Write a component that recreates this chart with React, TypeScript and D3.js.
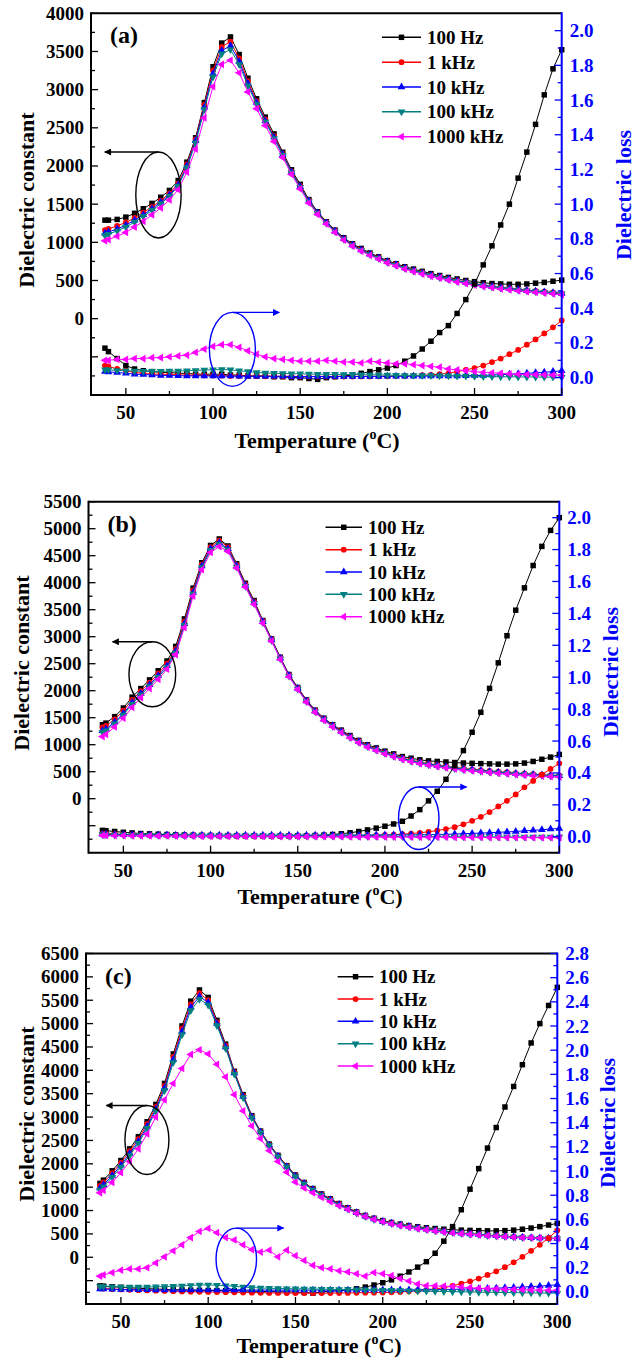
import React from 'react';
import * as d3 from 'd3';

// measured temperatures (°C)
const temps = [
  38, 40, 45, 50, 55, 60, 65, 70, 75, 80,
  85, 90, 95, 100, 105, 110, 115, 120, 125, 130,
  135, 140, 145, 150, 155, 160, 165, 170, 175, 180,
  185, 190, 195, 200, 205, 210, 215, 220, 225, 230,
  235, 240, 245, 250, 255, 260, 265, 270, 275, 280,
  285, 290, 295, 300,
];

const freqLabels = ['100 Hz', '1 kHz', '10 kHz', '100 kHz', '1000 kHz'];
const xTicks = [50, 100, 150, 200, 250, 300];

// ---- panel (a) ----
const aEps100Hz = [
  1290, 1290, 1300, 1330, 1380, 1440, 1510, 1590, 1680, 1810,
  2050, 2370, 2830, 3300, 3610, 3690, 3460, 3150, 2880, 2640,
  2420, 2180, 1950, 1760, 1560, 1400, 1270, 1160, 1060, 980,
  920, 860, 810, 760, 720, 680, 650, 620, 590, 565,
  540, 520, 500, 485, 470, 460, 455, 450, 450, 455,
  465, 475, 490, 505,
];
const aEps1kHz = [
  1160, 1175, 1215, 1260, 1320, 1390, 1465, 1545, 1640, 1770,
  2020, 2350, 2800, 3250, 3560, 3630, 3410, 3110, 2850, 2610,
  2390, 2160, 1930, 1740, 1545, 1390, 1260, 1150, 1050, 970,
  905, 850, 800, 750, 710, 670, 635, 605, 575, 550,
  525, 500, 480, 460, 440, 425, 410, 400, 385, 375,
  365, 355, 345, 335,
];
const aEps10kHz = [
  1120, 1135, 1175, 1225, 1290, 1360, 1440, 1525, 1620, 1750,
  2000, 2330, 2770, 3210, 3510, 3575, 3370, 3080, 2830, 2590,
  2375, 2150, 1920, 1730, 1540, 1385, 1255, 1145, 1045, 965,
  900, 845, 795, 745, 705, 665, 630, 600, 570, 545,
  520, 495, 475, 455, 435, 420, 405, 395, 380, 370,
  360, 350, 340, 330,
];
const aEps100kHz = [
  1090, 1105, 1150, 1200, 1265, 1340, 1420, 1505, 1605, 1735,
  1980, 2300, 2740, 3170, 3470, 3525, 3330, 3050, 2810, 2575,
  2360, 2140, 1910, 1720, 1530, 1380, 1250, 1140, 1040, 960,
  895, 840, 790, 740, 700, 660, 625, 595, 565, 540,
  515, 490, 470, 450, 430, 415, 400, 390, 375, 365,
  355, 345, 335, 325,
];
const aEps1000kHz = [
  1020, 1035, 1080, 1130, 1200, 1275, 1360, 1450, 1555, 1690,
  1920, 2220, 2630, 3040, 3330, 3385, 3220, 2970, 2750, 2530,
  2320, 2110, 1890, 1700, 1515, 1365, 1240, 1130, 1030, 950,
  885, 830, 780, 730, 690, 650, 615, 585, 555, 530,
  505, 480, 460, 440, 420, 405, 390, 378, 365, 355,
  345, 335, 325, 315,
];
const aLoss100Hz = [
  0.17, 0.15, 0.11, 0.07, 0.05, 0.04, 0.035, 0.03, 0.03, 0.025,
  0.025, 0.02, 0.02, 0.02, 0.02, 0.015, 0.015, 0.01, 0.01, 0.01,
  0.005, 0.005, 0, 0, -0.005, -0.01, 0, 0.005, 0.01, 0.015,
  0.025, 0.035, 0.045, 0.055, 0.07, 0.095, 0.125, 0.165, 0.21, 0.26,
  0.3, 0.37, 0.45, 0.54, 0.65, 0.76, 0.88, 1.0, 1.15, 1.3,
  1.46, 1.63, 1.78, 1.89,
];
const aLoss1kHz = [
  0.07, 0.065, 0.05, 0.04, 0.03, 0.025, 0.02, 0.02, 0.018, 0.016,
  0.015, 0.014, 0.013, 0.012, 0.011, 0.01, 0.01, 0.009, 0.009, 0.008,
  0.008, 0.007, 0.007, 0.006, 0.006, 0.006, 0.006, 0.006, 0.006, 0.006,
  0.007, 0.007, 0.008, 0.008, 0.009, 0.01, 0.012, 0.014, 0.016, 0.02,
  0.025, 0.035, 0.045, 0.055, 0.07, 0.09, 0.11, 0.135, 0.16, 0.19,
  0.22, 0.255, 0.29, 0.33,
];
const aLoss10kHz = [
  0.035, 0.033, 0.03, 0.025, 0.02, 0.018, 0.015, 0.013, 0.012, 0.011,
  0.01, 0.01, 0.01, 0.009, 0.009, 0.009, 0.008, 0.008, 0.008, 0.008,
  0.008, 0.008, 0.007, 0.007, 0.007, 0.007, 0.007, 0.007, 0.007, 0.007,
  0.007, 0.007, 0.007, 0.008, 0.008, 0.008, 0.008, 0.008, 0.009, 0.009,
  0.01, 0.01, 0.011, 0.012, 0.013, 0.015, 0.017, 0.02, 0.022, 0.025,
  0.028, 0.031, 0.035, 0.04,
];
const aLoss100kHz = [
  0.045, 0.045, 0.042, 0.04, 0.038, 0.037, 0.037, 0.037, 0.038, 0.038,
  0.04, 0.042, 0.044, 0.046, 0.047, 0.045, 0.04, 0.035, 0.03, 0.027,
  0.025, 0.024, 0.023, 0.022, 0.021, 0.02, 0.019, 0.019, 0.018, 0.018,
  0.017, 0.016, 0.016, 0.015, 0.014, 0.013, 0.013, 0.012, 0.012, 0.011,
  0.011, 0.01, 0.009, 0.008, 0.007, 0.006, 0.005, 0.005, 0.004, 0.004,
  0.004, 0.003, 0.003, 0.003,
];
const aLoss1000kHz = [
  0.1, 0.1, 0.105, 0.105, 0.11, 0.11, 0.115, 0.115, 0.12, 0.125,
  0.13, 0.145, 0.165, 0.18, 0.19, 0.19, 0.175, 0.155, 0.135, 0.12,
  0.11, 0.105, 0.1, 0.095, 0.095, 0.095, 0.1, 0.095, 0.09, 0.09,
  0.085, 0.095, 0.09, 0.085, 0.08, 0.08, 0.075, 0.07, 0.065, 0.06,
  0.05, 0.045, 0.04, 0.035, 0.03, 0.028, 0.025, 0.022, 0.02, 0.018,
  0.017, 0.016, 0.015, 0.015,
];

// ---- panel (b) ----
const bEps100Hz = [
  1370, 1400, 1520, 1680, 1880, 2040, 2200, 2370, 2550, 2820,
  3330, 3900, 4370, 4690, 4810, 4680, 4350, 3990, 3670, 3300,
  2960, 2620, 2300, 2060, 1830, 1640, 1490, 1370, 1270, 1170,
  1080, 1000, 940, 880, 830, 780, 750, 720, 700, 690,
  680, 670, 660, 655, 650, 645, 640, 640, 645, 660,
  690, 730, 770, 820,
];
const bEps1kHz = [
  1320, 1350, 1470, 1630, 1830, 1990, 2150, 2320, 2500, 2770,
  3280, 3860, 4340, 4660, 4780, 4660, 4330, 3970, 3650, 3290,
  2950, 2610, 2290, 2050, 1820, 1630, 1480, 1360, 1255, 1155,
  1065, 985, 920, 860, 805, 755, 715, 680, 650, 625,
  600, 580, 560, 545, 530, 515, 500, 490, 475, 465,
  455, 445, 435, 430,
];
const bEps10kHz = [
  1260, 1290, 1420, 1580, 1780, 1950, 2110, 2280, 2460, 2730,
  3240, 3820, 4310, 4630, 4740, 4630, 4310, 3950, 3630, 3275,
  2940, 2600, 2280, 2040, 1810, 1620, 1470, 1350, 1245, 1145,
  1055, 975, 910, 850, 795, 745, 705, 670, 640, 615,
  590, 570, 550, 535, 520, 505, 490, 480, 468, 458,
  448, 438, 430, 425,
];
const bEps100kHz = [
  1230, 1260, 1390, 1550, 1750, 1920, 2080, 2250, 2430, 2700,
  3210, 3790, 4280, 4600, 4710, 4610, 4290, 3935, 3615, 3260,
  2930, 2590, 2270, 2030, 1800, 1610, 1460, 1340, 1235, 1135,
  1045, 965, 900, 840, 785, 735, 695, 660, 630, 605,
  580, 560, 540, 525, 510, 495, 480, 470, 458, 448,
  438, 428, 420, 415,
];
const bEps1000kHz = [
  1150, 1190, 1330, 1490, 1690, 1870, 2040, 2210, 2400, 2670,
  3170, 3750, 4240, 4560, 4670, 4580, 4270, 3920, 3600, 3250,
  2920, 2580, 2260, 2020, 1790, 1600, 1450, 1330, 1225, 1125,
  1035, 955, 890, 830, 775, 725, 685, 650, 620, 595,
  570, 550, 530, 515, 500, 485, 470, 458, 446, 436,
  426, 418, 410, 402,
];
const bLoss100Hz = [
  0.04, 0.038, 0.033, 0.028, 0.024, 0.02, 0.018, 0.016, 0.014, 0.012,
  0.011, 0.01, 0.009, 0.008, 0.007, 0.007, 0.006, 0.006, 0.006, 0.005,
  0.005, 0.005, 0.005, 0.005, 0.006, 0.008, 0.01, 0.014, 0.019, 0.025,
  0.033, 0.043, 0.054, 0.066, 0.08, 0.097, 0.13, 0.17, 0.225, 0.285,
  0.36, 0.445, 0.54, 0.655, 0.78, 0.93, 1.09, 1.26, 1.42, 1.56,
  1.7, 1.82, 1.92, 2.0,
];
const bLoss1kHz = [
  0.02, 0.02, 0.018, 0.015, 0.013, 0.011, 0.01, 0.009, 0.008, 0.008,
  0.007, 0.007, 0.007, 0.006, 0.006, 0.006, 0.006, 0.005, 0.005, 0.005,
  0.005, 0.005, 0.005, 0.005, 0.005, 0.005, 0.005, 0.005, 0.005, 0.006,
  0.007, 0.008, 0.009, 0.011, 0.013, 0.016, 0.02, 0.025, 0.031, 0.039,
  0.048, 0.06, 0.078, 0.1, 0.125, 0.155, 0.19, 0.225, 0.265, 0.31,
  0.35, 0.39, 0.425, 0.46,
];
const bLoss10kHz = [
  0.015, 0.015, 0.014, 0.013, 0.012, 0.012, 0.011, 0.011, 0.011, 0.01,
  0.01, 0.01, 0.01, 0.01, 0.01, 0.01, 0.01, 0.01, 0.01, 0.01,
  0.01, 0.01, 0.01, 0.01, 0.01, 0.01, 0.01, 0.01, 0.01, 0.01,
  0.01, 0.01, 0.011, 0.011, 0.011, 0.012, 0.012, 0.012, 0.013, 0.014,
  0.015, 0.017, 0.019, 0.021, 0.023, 0.025, 0.028, 0.03, 0.033, 0.037,
  0.04, 0.044, 0.048, 0.052,
];
const bLoss100kHz = [
  0.012, 0.012, 0.011, 0.011, 0.01, 0.01, 0.01, 0.009, 0.009, 0.009,
  0.008, 0.008, 0.008, 0.008, 0.007, 0.007, 0.007, 0.007, 0.006, 0.006,
  0.006, 0.006, 0.005, 0.005, 0.005, 0.005, 0.004, 0.004, 0.004, 0.004,
  0.003, 0.003, 0.003, 0.003, 0.002, 0.002, 0.002, 0.002, 0.001, 0.001,
  0.001, 0.001, 0, 0, 0, 0, -0.001, -0.001, -0.001, -0.001,
  -0.002, -0.002, -0.002, -0.002,
];
const bLoss1000kHz = [
  0.008, 0.008, 0.007, 0.007, 0.006, 0.006, 0.005, 0.005, 0.005, 0.004,
  0.004, 0.004, 0.003, 0.003, 0.003, 0.003, 0.003, 0.002, 0.002, 0.002,
  0.002, 0.001, 0.001, 0.001, 0.001, 0, 0, 0, 0, -0.001,
  -0.001, -0.001, -0.001, -0.002, -0.002, -0.002, -0.002, -0.003, -0.003, -0.003,
  -0.003, -0.004, -0.004, -0.004, -0.004, -0.005, -0.005, -0.005, -0.005, -0.005,
  -0.006, -0.006, -0.006, -0.006,
];

// ---- panel (c) ----
const cEps100Hz = [
  1580, 1650, 1850, 2070, 2320, 2580, 2900, 3270, 3720, 4350,
  4950, 5480, 5720, 5560, 5070, 4560, 3980, 3480, 3030, 2700,
  2420, 2180, 1960, 1760, 1600, 1470, 1355, 1250, 1150, 1060,
  970, 895, 835, 785, 745, 710, 678, 652, 632, 615,
  600, 590, 580, 575, 570, 565, 565, 570, 580, 600,
  625, 655, 690, 725,
];
const cEps1kHz = [
  1530, 1600, 1800, 2020, 2270, 2530, 2850, 3220, 3670, 4290,
  4890, 5410, 5650, 5500, 5030, 4530, 3960, 3460, 3015, 2690,
  2410, 2170, 1950, 1750, 1590, 1460, 1345, 1240, 1140, 1050,
  960, 885, 825, 775, 735, 700, 665, 635, 608, 583,
  562, 542, 523, 507, 492, 477, 464, 452, 441, 431,
  422, 415, 410, 405,
];
const cEps10kHz = [
  1480, 1550, 1750, 1970, 2220, 2480, 2800, 3170, 3620, 4230,
  4830, 5350, 5580, 5450, 5000, 4500, 3940, 3440, 3000, 2680,
  2400, 2160, 1940, 1740, 1580, 1450, 1335, 1230, 1130, 1040,
  952, 877, 817, 767, 727, 692, 657, 627, 600, 575,
  554, 534, 516, 500, 485, 471, 458, 447, 437, 428,
  420, 413, 407, 402,
];
const cEps100kHz = [
  1440, 1510, 1710, 1930, 2180, 2440, 2760, 3130, 3570, 4170,
  4760, 5280, 5520, 5400, 4960, 4470, 3920, 3420, 2985, 2670,
  2390, 2150, 1930, 1730, 1570, 1440, 1325, 1220, 1120, 1030,
  945, 870, 810, 760, 720, 685, 650, 620, 593, 568,
  548, 528, 510, 494, 480, 466, 453, 442, 432, 423,
  415, 408, 403, 398,
];
const cEps1000kHz = [
  1380, 1430, 1600, 1810, 2050, 2320, 2640, 3000, 3370, 3720,
  4040, 4340, 4440, 4350, 4130, 3860, 3480, 3130, 2810, 2540,
  2280, 2050, 1820, 1610, 1480, 1380, 1280, 1190, 1100, 1020,
  940, 870, 810, 760, 715, 675, 640, 610, 585, 560,
  540, 520, 505, 490, 475, 462, 450, 440, 430, 422,
  415, 410, 405, 400,
];
const cLoss100Hz = [
  0.05, 0.048, 0.043, 0.038, 0.034, 0.03, 0.027, 0.024, 0.021, 0.019,
  0.017, 0.015, 0.013, 0.012, 0.011, 0.01, 0.009, 0.008, 0.006, 0.004,
  0.003, 0.002, 0, -0.002, -0.005, -0.01, 0, 0.005, 0.01, 0.016,
  0.026, 0.04, 0.057, 0.076, 0.1, 0.13, 0.165, 0.205, 0.25, 0.32,
  0.42, 0.54, 0.68, 0.85, 1.02, 1.19, 1.36, 1.53, 1.7, 1.88,
  2.06, 2.22, 2.37, 2.52,
];
const cLoss1kHz = [
  0.03, 0.028, 0.024, 0.02, 0.017, 0.014, 0.012, 0.01, 0.008, 0.006,
  0.004, 0.002, 0.001, 0, -0.001, -0.002, -0.003, -0.005, -0.006, -0.007,
  -0.008, -0.008, -0.009, -0.009, -0.01, -0.01, -0.01, -0.01, -0.009, -0.008,
  -0.007, -0.006, -0.006, -0.005, -0.003, 0, 0.005, 0.01, 0.017, 0.025,
  0.035, 0.05, 0.068, 0.088, 0.11, 0.14, 0.17, 0.205, 0.245, 0.29,
  0.34, 0.39, 0.445, 0.51,
];
const cLoss10kHz = [
  0.025, 0.024, 0.022, 0.02, 0.019, 0.018, 0.017, 0.016, 0.016, 0.015,
  0.015, 0.015, 0.015, 0.015, 0.015, 0.015, 0.015, 0.015, 0.015, 0.015,
  0.015, 0.015, 0.015, 0.015, 0.015, 0.015, 0.015, 0.015, 0.015, 0.015,
  0.015, 0.015, 0.016, 0.016, 0.016, 0.016, 0.017, 0.017, 0.018, 0.019,
  0.02, 0.021, 0.023, 0.025, 0.027, 0.029, 0.031, 0.034, 0.037, 0.04,
  0.044, 0.048, 0.053, 0.06,
];
const cLoss100kHz = [
  0.045, 0.044, 0.042, 0.04, 0.04, 0.04, 0.041, 0.042, 0.044, 0.047,
  0.05, 0.054, 0.057, 0.058, 0.056, 0.052, 0.046, 0.04, 0.036, 0.033,
  0.03, 0.028, 0.027, 0.026, 0.025, 0.024, 0.023, 0.022, 0.021, 0.02,
  0.019, 0.017, 0.016, 0.014, 0.013, 0.011, 0.01, 0.008, 0.007, 0.005,
  0.004, 0.002, 0.001, 0, -0.002, -0.003, -0.004, -0.005, -0.006, -0.007,
  -0.008, -0.009, -0.01, -0.01,
];
const cLoss1000kHz = [
  0.13, 0.14, 0.16, 0.18, 0.19, 0.19, 0.2, 0.24, 0.29, 0.34,
  0.39, 0.45, 0.5, 0.525, 0.49, 0.45, 0.43, 0.39, 0.35, 0.33,
  0.345, 0.29, 0.345, 0.3, 0.26, 0.22, 0.2, 0.19, 0.175, 0.165,
  0.15, 0.13, 0.16, 0.15, 0.135, 0.11, 0.09, 0.065, 0.052, 0.05,
  0.048, 0.045, 0.04, 0.035, 0.03, 0.028, 0.025, 0.022, 0.02, 0.018,
  0.016, 0.015, 0.014, 0.014,
];

// annotation ellipses, in data units: [temp, value, radius temp, radius value, arrow end temp]
const aEpsMark = [68.7, 1620, 13, 563, 37.9];
const aLossMark = [111.1, 0.163, 13.2, 0.213, 138];
const bEpsMark = [66.6, 2304, 13.4, 602, 43.8];
const bLossMark = [219.4, 0.116, 11.6, 0.196, 246.8];
const cEpsMark = [64.9, 2509, 12.6, 738, 41.6];
const cLossMark = [116.1, 0.27, 11.6, 0.258, 143.2];

const FONT = '"Liberation Serif", "Times New Roman", serif';
const BLUE = '#0000ff';

const seriesStyle = [
  { color: '#000000', symbol: d3.symbolSquare, size: 30, rotate: 0 },
  { color: '#ff0000', symbol: d3.symbolCircle, size: 26, rotate: 0 },
  { color: '#0000ff', symbol: d3.symbolTriangle, size: 26, rotate: 0 },
  { color: '#008080', symbol: d3.symbolTriangle, size: 26, rotate: 180 },
  { color: '#ff00ff', symbol: d3.symbolTriangle, size: 26, rotate: -90 },
];

const panels = [
  {
    tag: '(a)', left: 91, right: 561.7, top: 13.3, bottom: 395,
    epsDomain: [-1000, 4000], lossDomain: [-0.1, 2.1], lossLabelMax: 2.0,
    eps: [aEps100Hz, aEps1kHz, aEps10kHz, aEps100kHz, aEps1000kHz],
    loss: [aLoss100Hz, aLoss1kHz, aLoss10kHz, aLoss100kHz, aLoss1000kHz],
    epsMark: aEpsMark, lossMark: aLossMark,
    legend: { x0: 382, x1: 421, tx: 427, y0: 37.3, dy: 24.85 },
    leftLabel: { x: 26, y: 200 }, rightLabel: { x: 623, y: 195 }, titleX: 317, titleDy: 53,
  },
  {
    tag: '(b)', left: 88.5, right: 559.3, top: 501.7, bottom: 852.7,
    epsDomain: [-1000, 5500], lossDomain: [-0.1, 2.1], lossLabelMax: 2.0,
    eps: [bEps100Hz, bEps1kHz, bEps10kHz, bEps100kHz, bEps1000kHz],
    loss: [bLoss100Hz, bLoss1kHz, bLoss10kHz, bLoss100kHz, bLoss1000kHz],
    epsMark: bEpsMark, lossMark: bLossMark,
    legend: { x0: 325.5, x1: 362, tx: 368, y0: 527.3, dy: 22.35 },
    leftLabel: { x: 21, y: 663 }, rightLabel: { x: 610, y: 672 }, titleX: 320, titleDy: 51,
  },
  {
    tag: '(c)', left: 86, right: 557.3, top: 953.5, bottom: 1304,
    epsDomain: [-1000, 6500], lossDomain: [-0.1, 2.8], lossLabelMax: 2.8,
    eps: [cEps100Hz, cEps1kHz, cEps10kHz, cEps100kHz, cEps1000kHz],
    loss: [cLoss100Hz, cLoss1kHz, cLoss10kHz, cLoss100kHz, cLoss1000kHz],
    epsMark: cEpsMark, lossMark: cLossMark,
    legend: { x0: 337.7, x1: 373.4, tx: 379, y0: 976.7, dy: 22.33 },
    leftLabel: { x: 26, y: 1114 }, rightLabel: { x: 607, y: 1123 }, titleX: 319, titleDy: 49,
  },
];

function Series({ values, x, y, style }) {
  const line = d3.line<number>().x((_, i) => x(temps[i])).y(d => y(d));
  const sym = d3.symbol().type(style.symbol).size(style.size)();
  return (
    <g>
      <path d={line(values) || ''} fill="none" stroke={style.color} strokeWidth={1} />
      {values.map((v, i) => (
        <path key={i} d={sym || ''} fill={style.color}
          transform={`translate(${x(temps[i])},${y(v)}) rotate(${style.rotate})`} />
      ))}
    </g>
  );
}

function Panel({ cfg, idx }) {
  const x = d3.scaleLinear().domain([30, 300]).range([cfg.left, cfg.right]);
  const yL = d3.scaleLinear().domain(cfg.epsDomain).range([cfg.bottom, cfg.top]);
  const yR = d3.scaleLinear().domain(cfg.lossDomain).range([cfg.bottom, cfg.top]);
  const [eMin, eMax] = cfg.epsDomain;
  const [, lMax] = cfg.lossDomain;

  const epsMajor = d3.range(eMin + 500, eMax + 1, 500);
  const epsMinor = d3.range(eMin + 250, eMax, 500);
  const lossMajor = d3.range(0, cfg.lossLabelMax + 1e-6, 0.2);
  const lossMinor = d3.range(0.1, lMax - 1e-6, 0.2);
  const xMinor = d3.range(75, 300, 50);
  const fmt = d3.format('.1f');

  const tickFont = { fontFamily: FONT, fontWeight: 'bold', fontSize: 19 };
  const arrowId = `arrow-${idx}`;

  const ellipse = (m, y, color, dir) => {
    const cx = x(m[0]);
    const cy = y(m[1]);
    const rx = Math.abs(x(m[0] + m[2]) - cx);
    const ry = Math.abs(y(m[1] + m[3]) - cy);
    return (
      <g>
        <ellipse cx={cx} cy={cy} rx={rx} ry={ry} fill="none" stroke={color} strokeWidth={1.4} />
        <line x1={cx} y1={cy - ry} x2={x(m[4])} y2={cy - ry} stroke={color} strokeWidth={1.4}
          markerEnd={`url(#${arrowId}-${dir})`} />
      </g>
    );
  };

  return (
    <g>
      <defs>
        <marker id={`${arrowId}-k`} viewBox="0 0 10 10" refX="9" refY="5" markerWidth="9" markerHeight="7"
          markerUnits="userSpaceOnUse" orient="auto">
          <path d="M0,0 L10,5 L0,10 z" fill="#000" />
        </marker>
        <marker id={`${arrowId}-b`} viewBox="0 0 10 10" refX="9" refY="5" markerWidth="9" markerHeight="7"
          markerUnits="userSpaceOnUse" orient="auto">
          <path d="M0,0 L10,5 L0,10 z" fill={BLUE} />
        </marker>
      </defs>

      {/* curves */}
      {cfg.eps.map((vals, i) => (
        <Series key={`e${i}`} values={vals} x={x} y={yL} style={seriesStyle[i]} />
      ))}
      {cfg.loss.map((vals, i) => (
        <Series key={`l${i}`} values={vals} x={x} y={yR} style={seriesStyle[i]} />
      ))}

      {/* frame */}
      <line x1={cfg.left} x2={cfg.right} y1={cfg.top} y2={cfg.top} stroke="#000" strokeWidth={2} />
      <line x1={cfg.left} x2={cfg.right} y1={cfg.bottom} y2={cfg.bottom} stroke="#000" strokeWidth={2} />
      <line x1={cfg.left} x2={cfg.left} y1={cfg.top - 1} y2={cfg.bottom + 1} stroke="#000" strokeWidth={2} />
      <line x1={cfg.right} x2={cfg.right} y1={cfg.top - 1} y2={cfg.bottom + 1} stroke={BLUE} strokeWidth={2} />

      {/* x axis */}
      {xTicks.map(t => (
        <g key={`xt${t}`}>
          <line x1={x(t)} x2={x(t)} y1={cfg.bottom} y2={cfg.bottom - 7} stroke="#000" strokeWidth={1.3} />
          <text x={x(t)} y={cfg.bottom + 24} textAnchor="middle" {...tickFont}>{t}</text>
        </g>
      ))}
      {xMinor.map(t => (
        <line key={`xm${t}`} x1={x(t)} x2={x(t)} y1={cfg.bottom} y2={cfg.bottom - 4} stroke="#000" strokeWidth={1.3} />
      ))}

      {/* left axis */}
      {epsMajor.map(v => (
        <g key={`el${v}`}>
          <line x1={cfg.left} x2={cfg.left + 7} y1={yL(v)} y2={yL(v)} stroke="#000" strokeWidth={1.3} />
          {v >= 0 && (
            <text x={cfg.left - 7} y={yL(v) + 6.5} textAnchor="end" {...tickFont}>{v}</text>
          )}
        </g>
      ))}
      {epsMinor.map(v => (
        <line key={`em${v}`} x1={cfg.left} x2={cfg.left + 4} y1={yL(v)} y2={yL(v)} stroke="#000" strokeWidth={1.3} />
      ))}

      {/* right axis */}
      {lossMajor.map(v => (
        <g key={`lr${v}`}>
          <line x1={cfg.right} x2={cfg.right - 7} y1={yR(v)} y2={yR(v)} stroke={BLUE} strokeWidth={1.3} />
          <text x={cfg.right + 8} y={yR(v) + 6.5} textAnchor="start" fill={BLUE} {...tickFont}>{fmt(v)}</text>
        </g>
      ))}
      {lossMinor.map(v => (
        <line key={`lm${v}`} x1={cfg.right} x2={cfg.right - 4} y1={yR(v)} y2={yR(v)} stroke={BLUE} strokeWidth={1.3} />
      ))}

      {/* axis titles */}
      <text transform={`translate(${cfg.leftLabel.x},${cfg.leftLabel.y}) rotate(-90)`} textAnchor="middle"
        dominantBaseline="central" fontFamily={FONT} fontWeight="bold" fontSize={22}>Dielectric constant</text>
      <text transform={`translate(${cfg.rightLabel.x},${cfg.rightLabel.y}) rotate(-90)`} textAnchor="middle"
        dominantBaseline="central" fontFamily={FONT} fontWeight="bold" fontSize={22} fill={BLUE}>Dielectric loss</text>
      <text x={cfg.titleX} y={cfg.bottom + cfg.titleDy} textAnchor="middle" fontFamily={FONT} fontWeight="bold" fontSize={22}>
        Temperature (<tspan dy={-9} fontSize={14}>o</tspan><tspan dy={9}>C)</tspan>
      </text>

      {/* panel tag */}
      <text x={cfg.left + 19} y={cfg.top + 30} fontFamily={FONT} fontWeight="bold" fontSize={24}>{cfg.tag}</text>

      {/* legend */}
      {freqLabels.map((lab, i) => {
        const ly = cfg.legend.y0 + i * cfg.legend.dy;
        const st = seriesStyle[i];
        const sym = d3.symbol().type(st.symbol).size(st.size)();
        const mx = (cfg.legend.x0 + cfg.legend.x1) / 2;
        return (
          <g key={lab}>
            <line x1={cfg.legend.x0} x2={cfg.legend.x1} y1={ly} y2={ly} stroke={st.color} strokeWidth={1.5} />
            <path d={sym || ''} fill={st.color} transform={`translate(${mx},${ly}) rotate(${st.rotate})`} />
            <text x={cfg.legend.tx} y={ly + 6.5} fontFamily={FONT} fontWeight="bold" fontSize={19}>{lab}</text>
          </g>
        );
      })}

      {/* annotations */}
      {ellipse(cfg.epsMark, yL, '#000', 'k')}
      {ellipse(cfg.lossMark, yR, BLUE, 'b')}
    </g>
  );
}

export default function App() {
  return (
    <svg width={639} height={1361} style={{ position: 'absolute', left: 0, top: 0, background: '#fff' }}>
      <rect x={0} y={0} width={639} height={1361} fill="#fff" />
      {panels.map((p, i) => (
        <Panel key={p.tag} cfg={p} idx={i} />
      ))}
    </svg>
  );
}
